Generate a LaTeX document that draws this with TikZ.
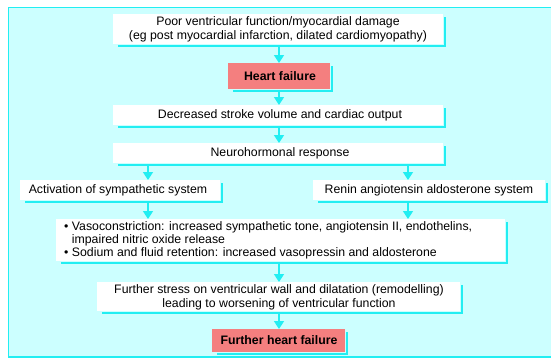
\documentclass[tikz,border=0pt]{standalone}
\usepackage{fontspec}
\setmainfont{Liberation Sans}
\usetikzlibrary{arrows.meta}
\definecolor{panelbg}{HTML}{CCFFFF}
\definecolor{cyanline}{HTML}{22EEF2}
\definecolor{pinkbox}{HTML}{F47F7F}
\tikzset{
  shadowline/.style={draw=cyanline, line width=2.2pt},
  flow/.style={draw=cyanline, line width=1.6pt, -{Triangle[width=10pt,length=8pt]}},
  lbl/.style={font=\fontsize{12.3}{14}\selectfont, align=center, inner sep=0pt},
  boldlbl/.style={lbl, font=\fontsize{12.3}{14}\selectfont\bfseries},
}
\newcommand{\shadowbox}[4]{% x1 y1 x2 y2 (pixel coords)
  \draw[shadowline] (#1+5,#4+2) -- (#3+2,#4+2) -- (#3+2,#2+3);
}
\begin{document}
\begin{tikzpicture}[x=1pt,y=-1pt]
\useasboundingbox (0,0) rectangle (551,360);
\fill[white] (0,0) rectangle (551,360);
\fill[panelbg] (8,7) rectangle (551,357);
\draw[cyanline, line width=1.5pt] (551,7.5) -- (8.5,7.5) -- (8.5,357) -- (551,357);

% box 1
\shadowbox{113}{14}{443}{44}
\fill[white] (113,14) rectangle (443,44);
\node[lbl] (b1) at (278,29.5) {Poor ventricular function/myocardial damage\\(eg post myocardial infarction, dilated cardiomyopathy)};
\coordinate (b1s) at (279,46);

% heart failure
\shadowbox{228}{63}{330}{89}
\fill[pinkbox] (228,63) rectangle (330,89);
\node[boldlbl] (hf) at (280,76) {Heart failure};
\coordinate (hfn) at (279,63);
\coordinate (hfs) at (279,90);

% box 3
\shadowbox{113}{105}{443}{125}
\fill[white] (113,105) rectangle (443,125);
\node[lbl] (b3) at (280,115) {Decreased stroke volume and cardiac output};
\coordinate (b3n) at (279,105);
\coordinate (b3s) at (279,126);

% box 4
\shadowbox{113}{143}{443}{163}
\fill[white] (113,143) rectangle (443,163);
\node[lbl] (b4) at (280,153) {Neurohormonal response};
\coordinate (b4n) at (279,143);
\coordinate (b4l) at (148,164);
\coordinate (b4r) at (408,164);

% box 5 and 6
\shadowbox{20}{180}{220}{200}
\fill[white] (20,180) rectangle (220,200);
\node[lbl] (b5) at (118,190) {Activation of sympathetic system};
\coordinate (b5n) at (148,180);
\coordinate (b5s) at (148,201);

\shadowbox{313}{180}{545}{200}
\fill[white] (313,180) rectangle (545,200);
\node[lbl] (b6) at (429,190) {Renin angiotensin aldosterone system};
\coordinate (b6n) at (408,180);
\coordinate (b6s) at (408,201);

% box 7
\shadowbox{56}{219}{505}{261}
\fill[white] (56,219) rectangle (505,261);
\node[lbl, align=left, anchor=north west, font=\fontsize{12.3}{13}\selectfont] (b7) at (64,221.5) {%
\textbullet\ Vasoconstriction: increased sympathetic tone, angiotensin II, endothelins,\\
\hphantom{\textbullet\ }impaired nitric oxide release\\
\textbullet\ Sodium and fluid retention: increased vasopressin and aldosterone};
\coordinate (b7nl) at (148,219);
\coordinate (b7nr) at (408,219);
\coordinate (b7s) at (279,262);

% box 8
\shadowbox{97}{282}{460}{311}
\fill[white] (97,282) rectangle (460,311);
\node[lbl] (b8) at (279,297) {Further stress on ventricular wall and dilatation (remodelling)\\leading to worsening of ventricular function};
\coordinate (b8n) at (279,282);
\coordinate (b8s) at (279,312);

% further heart failure
\shadowbox{212}{329}{345}{352}
\fill[pinkbox] (212,329) rectangle (345,352);
\node[boldlbl] (fhf) at (279,340.5) {Further heart failure};
\coordinate (fhfn) at (279,329);

% arrows
\draw[flow] (b1s) -- (hfn);
\draw[flow] (hfs) -- (b3n);
\draw[flow] (b3s) -- (b4n);
\draw[flow] (b4l) -- (b5n);
\draw[flow] (b4r) -- (b6n);
\draw[flow] (b5s) -- (b7nl);
\draw[flow] (b6s) -- (b7nr);
\draw[flow] (b7s) -- (b8n);
\draw[flow] (b8s) -- (fhfn);
\end{tikzpicture}
\end{document}
